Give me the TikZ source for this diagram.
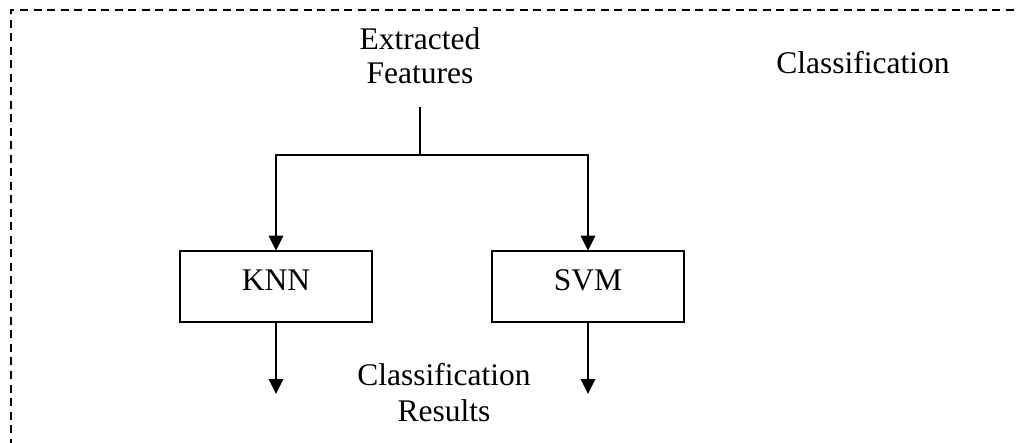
\documentclass[tikz,border=0pt]{standalone}
\usepackage{fontspec}
\setmainfont{Liberation Serif}
\usetikzlibrary{arrows.meta}
\begin{document}
\begin{tikzpicture}[x=1pt,y=-1pt,
  every node/.style={font=\fontsize{31.5}{36}\selectfont, inner sep=0pt, outer sep=0pt},
  wire/.style={line width=1.8pt},
  flow/.style={wire, -{Triangle[length=15pt,width=14.5pt]}},
  classbox/.style={draw, line width=1.8pt, minimum width=192pt,
    text height=40pt, text depth=31.3pt, anchor=base},
  frame/.style={line width=1.6pt, dash pattern=on 8pt off 5.5pt}]
  \useasboundingbox (0,0) rectangle (1017,443);
  \begin{scope}
    \clip (0,0) rectangle (1017,443);
    \draw[frame] (11,460) -- (11,10) -- (1040,10);
  \end{scope}

  % labels
  \node[anchor=south, outer ysep=23pt, align=center,
        font=\fontsize{31.5}{34}\selectfont] (feat) at (420,107) {Extracted\\Features};
  \node[anchor=base] (cls) at (863,73.5) {Classification};
  \node[anchor=base, align=center] (res) at (444,421.7) {Classification\\Results};

  % classifiers
  \node[classbox] (knn) at (276,290.7) {KNN};
  \node[classbox] (svm) at (588,290.7) {SVM};

  % splitting of the feature stream
  \coordinate (split) at (420,155);
  \coordinate (knnout) at (276,394);
  \coordinate (svmout) at (588,394);
  \draw[wire] (feat.south) -- (split);
  \draw[flow] (split) -| (knn.north);
  \draw[flow] (split) -| (svm.north);
  \draw[flow] (knn.south) -- (knnout);
  \draw[flow] (svm.south) -- (svmout);
\end{tikzpicture}
\end{document}
